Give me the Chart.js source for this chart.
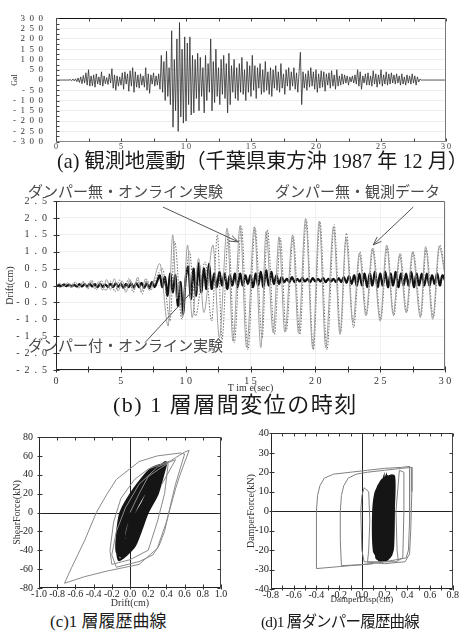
<!DOCTYPE html>
<html><head><meta charset="utf-8">
<script src="https://cdn.jsdelivr.net/npm/chart.js@4.4.1/dist/chart.umd.min.js"></script>
<style>
html,body{margin:0;padding:0;background:#fff;}
#page{position:relative;width:459px;height:639px;overflow:hidden;background:#fff;}
canvas{position:absolute;}
.cap{position:absolute;white-space:nowrap;color:#1a1a1a;line-height:1;font-family:"Liberation Serif","Noto Sans CJK JP",serif;z-index:5;}
.ann{position:absolute;white-space:nowrap;color:#4a4a4a;line-height:1;font-family:"Noto Sans CJK JP",sans-serif;font-size:15px;z-index:5;}
</style></head>
<body>
<div id="page">
<canvas id="ca" width="459" height="160" style="left:0;top:0"></canvas>
<canvas id="cb" width="459" height="208" style="left:0;top:186px"></canvas>
<canvas id="cc" width="230" height="184" style="left:0;top:425px"></canvas>
<canvas id="cd" width="230" height="180" style="left:229px;top:425px"></canvas>
<div class="cap" style="left:57px;top:151px;font-size:20.2px">(a) 観測地震動（千葉県東方沖 1987 年 12 月）</div>
<div class="ann" style="left:28px;top:183px">ダンパー無・オンライン実験</div>
<div class="ann" style="left:275px;top:183px">ダンパー無・観測データ</div>
<div class="ann" style="left:28px;top:337px">ダンパー付・オンライン実験</div>
<div class="cap" style="left:113px;top:394px;font-size:22px;letter-spacing:1.5px">(b) 1 層層間変位の時刻</div>
<div class="cap" style="left:50px;top:613px;font-size:17px">(c)1 層履歴曲線</div>
<div class="cap" style="left:261px;top:614px;font-size:15.5px;letter-spacing:-0.8px">(d)1 層ダンパー履歴曲線</div>
</div>
<script>
// ---------- (a) observed ground acceleration (Gal), sampled every 0.1 s ----------
const accStart = 0, accStep = 0.1;
const accGal = [
0,0,0,0,0,0,0,0,0,0,
0,2,-3,5,-4,6,-8,10,-12,15,
-18,22,-15,35,-25,50,-30,20,-28,25,
-35,30,-20,15,-25,40,-30,20,-18,12,
-22,30,-15,55,-40,25,-50,20,-30,15,
-25,35,-45,40,-20,30,-55,45,-30,60,
-60,40,-35,25,-40,30,-25,20,-35,60,
-50,30,-65,25,-20,35,-30,20,-25,30,
-45,120,-60,90,-100,140,-80,60,-120,240,
-230,100,-150,200,-250,280,-180,150,-210,210,
-200,180,-120,210,-170,120,-160,100,-90,130,
-150,110,-80,60,-160,120,-100,80,-60,200,
-150,90,-110,150,-80,60,-120,100,-70,120,
-90,80,-160,130,-120,70,-60,100,-90,60,
-100,80,-60,110,-70,50,-100,90,-60,70,
-80,120,-50,70,-90,60,-40,80,-70,50,
-60,90,-50,40,-70,60,-80,50,-40,70,
-50,40,-60,80,-40,30,-70,50,-30,60,
-50,40,-30,60,-45,35,-60,40,135,-120,
40,-40,30,-50,45,-35,60,-30,40,-45,
50,-60,30,-40,45,-35,40,-55,30,-25,
35,-40,45,-30,25,-45,50,-30,20,-25,
30,-20,25,-15,20,-25,15,-10,20,-15,
25,-20,50,-30,40,-45,20,-15,30,-25,
35,-25,20,-30,45,-20,30,-35,25,-20,
50,-30,25,-20,40,-25,30,-20,35,-15,
25,-20,30,-15,20,-25,30,-20,15,-25,
25,-15,20,-20,30,-15,20,-25,15,-10,
5,0,0,0,0,0,0,0,0,0,
0,0,0,0,0,0,0,0,0,0,0];

// ---------- (b) 1st storey drift (cm) ----------
const obsTime = [0,0.3,0.6,0.9,1.2,1.5,1.8,2.1,2.4,2.7,3.0,3.3,3.6,3.9,4.2,4.5,4.8,5.1,5.4,5.7,6.0,6.3,6.6,6.9,7.2,7.5,
 8.0,8.65,9.0,9.3,9.5,9.75,10.15,10.5,11.0,11.4,12.1,12.6,13.2,13.65,14.2,14.7,15.3,15.8,16.2,16.75,17.2,17.65,18.25,18.7,
 19.25,19.8,20.3,20.8,21.4,21.9,22.36,22.9,23.4,23.9,24.4,25.0,25.5,26.0,26.5,27.0,27.5,28.1,28.5,29.05,29.55,30];
const obsDrift = [0,0.06,-0.04,0.08,-0.05,0.1,-0.06,0.12,-0.08,0.15,-0.1,0.12,-0.14,0.18,-0.12,0.2,-0.16,0.14,-0.2,0.18,-0.12,0.25,-0.18,0.2,-0.15,0.1,
 0.65,-1.2,1.5,-0.4,0.1,-0.95,1.2,-0.95,0.8,-0.8,1.2,-1.55,1.7,-1.65,1.78,-1.84,1.74,-1.84,1.59,-1.4,1.44,-1.38,1.5,-1.4,
 1.98,-1.85,1.9,-1.84,1.74,-1.45,1.4,-1.1,0.96,-0.9,1.1,-1.06,1.2,-0.85,0.9,-0.8,1.0,-0.95,1.15,-1.0,1.15,0.3];
const onlineTime = [0,0.35,0.7,1.05,1.4,1.75,2.1,2.45,2.8,3.15,3.5,3.85,4.2,4.55,4.9,5.25,5.6,5.95,6.3,6.65,7.0,7.35,7.7,
 8.2,8.8,9.15,9.7,10.3,10.75,11.5,12.0,12.45,12.8,13.3,13.75,14.3,14.8,15.35,15.9,16.3,16.85,17.3,17.75,18.3,18.8,
 19.3,19.85,20.35,20.9,21.45,21.95,22.4,22.95,23.45,23.95,24.45,25.05,25.55,26.05,26.55,27.05,27.55,28.15,28.55,29.1,29.6,30];
const onlineDrift = [0,-0.05,0.07,-0.06,0.09,-0.08,0.1,-0.1,0.14,-0.12,0.15,-0.15,0.13,-0.18,0.16,-0.14,0.2,-0.2,0.15,-0.25,0.18,-0.12,0.2,
 0.5,-1.05,1.3,-1.0,1.0,-0.9,0.7,-1.05,1.5,-1.6,1.55,-1.7,1.75,-1.9,1.7,-1.55,1.65,-1.45,1.4,-1.35,1.45,-1.45,
 1.95,-1.9,1.9,-1.9,1.8,-1.4,1.55,-1.25,1.0,-0.85,1.1,-1.0,1.15,-0.9,0.95,-0.8,1.0,-0.9,1.1,-0.95,1.2,0.4];
const damperStep = 0.2;
const damperDrift = [
0,0.02,-0.02,0.03,-0.02,0.03,-0.03,0.02,-0.03,0.04,
-0.03,0.04,-0.04,0.05,-0.03,0.04,-0.05,0.05,-0.04,0.03,
-0.04,0.05,-0.05,0.06,-0.04,0.05,-0.06,0.05,-0.05,0.06,
-0.06,0.07,-0.05,0.08,-0.07,0.06,-0.08,0.1,-0.05,0.12,
0.3,-0.05,0.25,-0.3,0.35,-0.2,0.3,-0.6,0.1,-0.85,
0.2,0.55,-0.4,0.5,-0.3,0.65,-0.2,0.5,-0.1,0.65,
-0.1,0.35,-0.05,0.4,0.0,0.35,-0.1,0.3,0.0,0.35,
-0.05,0.35,0.0,0.3,0.05,0.3,-0.05,0.35,0.0,0.4,
-0.05,0.45,0.0,0.4,0.05,0.3,0.05,0.25,0.1,0.2,
0.1,0.25,0.1,0.2,0.12,0.22,0.12,0.2,0.1,0.22,
0.12,0.2,0.12,0.22,0.1,0.2,0.12,0.2,0.1,0.22,
0.1,0.25,0.08,0.28,0.05,0.3,0.0,0.35,0.0,0.35,
-0.05,0.35,0.0,0.4,-0.05,0.35,0.0,0.4,-0.05,0.35,
0.0,0.4,-0.05,0.35,0.0,0.35,0.0,0.4,-0.05,0.35,
0.0,0.35,0.0,0.35,0.0,0.3,0.05,0.35,0.0,0.3,
0.15];
const arrowFrom = [[8.25, 2.32], [27.55, 2.32], [6.86, -1.69]];
const arrowTo   = [[14.06, 1.29], [24.46, 1.2], [10.97, 0.02]];

// ---------- (c) storey hysteresis ----------
const cOuterDrift = [0,0.1,0.2,0.35,0.42,0.38,0.3,0.2,0.0,-0.2,-0.22,-0.18,-0.1,0.05,0.2,0.45,0.6,0.65,0.55,0.5,0.4,0.3,0.1,-0.25,-0.5,-0.72,-0.64,-0.5,-0.37,-0.25,-0.15,0.1,0.3,0.55,0.6,0.5,0.45,0.38,0.32,0.25,0.1,-0.15,-0.2,-0.15,-0.05,0.1,0.3,0.5,0.35];
const cOuterForce = [0,20,38,48,52,20,-10,-40,-50,-55,-40,-10,15,35,46,55,64,66,40,25,-10,-38,-55,-62,-68,-75,-58,-30,0,20,35,54,60,63,62,30,10,-20,-35,-45,-52,-58,-45,-20,5,30,48,56,30];
const cCoreDrift = [0.40,0.30,0.19,0.05,-0.12,-0.14,-0.10,0.05,0.22, 0.36,0.28,0.15,0.02,-0.10,-0.12,-0.06,0.10,0.25, 0.33,0.25,0.14,0.0,-0.14,-0.13,-0.05,0.12,0.28, 0.38,0.29,0.17,0.04,-0.08,-0.11,-0.08,0.06,0.20, 0.30,0.22,0.12,0.01,-0.09,-0.10,-0.04,0.10,0.24, 0.35,0.27,0.18,0.06,-0.06,-0.10,-0.07,0.05,0.20, 0.27,0.20,0.10,-0.02,-0.12,-0.12,-0.06,0.08,0.20, 0.39,0.31,0.20,0.07,-0.04,-0.08,-0.05,0.08,0.24, 0.32,0.24,0.13,0.02,-0.07,-0.09,-0.03,0.12,0.26, 0.28,0.21,0.11,0.0,-0.06,-0.07,0.0,0.14,0.22,
 0.34,0.27,0.15,0.06,-0.02,-0.06,-0.10,-0.07,0.0,0.12,0.25, 0.30,0.22,0.12,0.04,-0.03,-0.08,-0.09,-0.04,0.05,0.15,0.28, 0.38,0.30,0.20,0.10,0.0,-0.05,-0.10,-0.08,-0.02,0.08,0.20,0.32, 0.26,0.18,0.10,0.02,-0.05,-0.07,-0.02,0.07,0.16,0.24, 0.36,0.26,0.14,0.08,0.02,-0.04,0.0,0.06,0.14,0.22,0.30];
const cCoreForce = [54,20,0,-35,-50,-25,0,25,45, 50,22,-5,-38,-46,-22,5,30,44, 46,20,-2,-36,-42,-18,8,32,44, 52,25,0,-30,-44,-28,-2,22,40, 40,15,-8,-32,-40,-20,4,26,38, 48,24,4,-28,-42,-26,-4,20,38, 36,14,-10,-34,-44,-25,0,24,34, 53,28,6,-24,-40,-30,-6,18,40, 44,18,-6,-30,-38,-18,6,28,40, 38,16,-6,-26,-30,-12,8,28,34,
 46,28,8,-12,-32,-44,-36,-15,5,25,40, 42,26,6,-14,-30,-40,-28,-8,10,28,42, 50,34,14,-4,-24,-38,-44,-20,0,18,34,46, 36,18,0,-20,-36,-24,-6,12,26,34, 48,30,10,0,-12,-26,-10,4,18,30,40];

// ---------- (d) damper hysteresis ----------
const dOuterDisp = [0.1,0.0,-0.2,-0.4,-0.4,-0.4,-0.39,-0.37,-0.33,-0.25,-0.1,0.05,0.2,0.35,0.42,0.42,0.42,0.41,0.39,0.3,0.15,0.0,-0.18,-0.19,-0.19,-0.18,-0.16,-0.12,-0.05,0.05,0.2,0.35,0.44,0.44,0.43,0.42,0.38,0.2,0.02,0.0,-0.01,0.0,0.02,0.06,0.07,0.06,0.05,0.3,0.36,0.37,0.37,0.33,0.3,0.31,0.32];
const dOuterForce = [-27,-27.5,-28.5,-29.5,-20,0,8,13,17,19,20,21,22,22.5,23,10,-5,-20,-24,-25,-26.5,-27.5,-28,-15,0,8,13,17,19,20,21,22,22.5,10,-10,-22,-26,-27,-26,-20,0,8,12,10,-5,-20,-26,-26,-24,0,20,21,0,-20,-25];
const dCoreDisp = [0.26,0.27,0.26,0.20,0.13,0.12,0.14,0.20, 0.24,0.25,0.24,0.18,0.12,0.11,0.13,0.18, 0.28,0.28,0.27,0.22,0.15,0.14,0.15,0.22, 0.22,0.23,0.22,0.17,0.13,0.12,0.14,0.19, 0.27,0.27,0.25,0.19,0.14,0.13,0.15,0.21, 0.25,0.26,0.25,0.20,0.16,0.15,0.16,0.21, 0.23,0.24,0.22,0.16,0.11,0.10,0.12,0.17, 0.26,0.27,0.26,0.21,0.15,0.14,0.16,0.21,
 0.21,0.22,0.21,0.18,0.16,0.15,0.16,0.19, 0.19,0.20,0.19,0.17,0.17,0.17,0.18, 0.24,0.23,0.23,0.20,0.18,0.18,0.19,0.22, 0.16,0.16,0.15,0.13,0.13,0.13,0.15, 0.25];
const dCoreForce = [18,0,-22,-25,-24,-5,12,17, 17,-2,-20,-24,-22,-4,10,16, 18,2,-20,-25,-25,-8,10,18, 16,0,-18,-22,-20,-2,11,16, 18,-4,-23,-25,-23,-6,9,17, 17,1,-21,-24,-22,-5,10,16, 16,-3,-20,-23,-21,-3,9,15, 18,0,-22,-25,-24,-6,10,17,
 17,0,-20,-23,-21,-3,10,16, 16,-2,-21,-23,-5,8,15, 17,-4,-22,-24,-20,-2,12,17, 14,-3,-22,-23,-8,6,13, 17];

// ---------- helpers ----------
const serif = '"Liberation Serif","Times New Roman",serif';
const zip = (xs, ys) => xs.map((x, i) => ({x, y: ys[i]}));
const spaced = (s, sep) => String(s).split('').join(sep);
const fixW = w => s => { s.width = w; };
const fixH = h => s => { s.height = h; };

const framePlugin = {
  id: 'frame',
  beforeDatasetsDraw(chart, args, o) {
    if (!o || !o.cross) return;
    const {ctx, chartArea: a, scales: {x, y}} = chart;
    ctx.save(); ctx.strokeStyle = o.cross; ctx.lineWidth = 1;
    const px = Math.round(x.getPixelForValue(0)) + 0.5, py = Math.round(y.getPixelForValue(0)) + 0.5;
    ctx.beginPath(); ctx.moveTo(px, a.top); ctx.lineTo(px, a.bottom); ctx.moveTo(a.left, py); ctx.lineTo(a.right, py); ctx.stroke();
    ctx.restore();
  },
  afterDatasetsDraw(chart, args, o) {
    if (!o || !o.sides) return;
    const {ctx, chartArea: a, scales: {x, y}} = chart;
    ctx.save(); ctx.lineWidth = 1;
    const L = Math.round(a.left) + 0.5, R = Math.round(a.right) - 0.5, T = Math.round(a.top) + 0.5, B = Math.round(a.bottom) - 0.5;
    const seg = (c, x1, y1, x2, y2) => { if (!c) return; ctx.strokeStyle = c; ctx.beginPath(); ctx.moveTo(x1, y1); ctx.lineTo(x2, y2); ctx.stroke(); };
    const s = o.sides;
    seg(s[0], L, T, R, T); seg(s[1], R, T, R, B); seg(s[2], L, B, R, B); seg(s[3], L, T, L, B);
    ctx.strokeStyle = o.tickColor || '#333';
    ctx.beginPath();
    const n = o.len || 3, out = o.out || 0;
    if (o.xStep) for (let v = x.min; v <= x.max + 1e-9; v += o.xStep) {
      const p = Math.round(x.getPixelForValue(v)) + 0.5;
      if (o.xTop) { ctx.moveTo(p, T); ctx.lineTo(p, T + n); }
      if (o.xBottom) { ctx.moveTo(p, B + out); ctx.lineTo(p, B - n); }
    }
    if (o.yStep) for (let v = y.min; v <= y.max + 1e-9; v += o.yStep) {
      const p = Math.round(y.getPixelForValue(v)) + 0.5;
      if (o.yLeft) { ctx.moveTo(L - out, p); ctx.lineTo(L + n, p); }
      if (o.yRight) { ctx.moveTo(R, p); ctx.lineTo(R - n, p); }
    }
    ctx.stroke();
    ctx.restore();
  }
};

const arrowPlugin = {
  id: 'arrows',
  afterDatasetsDraw(chart, args, o) {
    if (!o || !o.from) return;
    const {ctx, scales: {x, y}} = chart;
    ctx.save(); ctx.strokeStyle = o.color; ctx.lineWidth = 1;
    o.from.forEach((f, i) => {
      const t = o.to[i];
      const x1 = x.getPixelForValue(f[0]), y1 = y.getPixelForValue(f[1]);
      const x2 = x.getPixelForValue(t[0]), y2 = y.getPixelForValue(t[1]);
      const ang = Math.atan2(y2 - y1, x2 - x1), h = 9, w = 0.35;
      ctx.beginPath(); ctx.moveTo(x1, y1); ctx.lineTo(x2, y2);
      ctx.moveTo(x2 - h * Math.cos(ang - w), y2 - h * Math.sin(ang - w));
      ctx.lineTo(x2, y2);
      ctx.lineTo(x2 - h * Math.cos(ang + w), y2 - h * Math.sin(ang + w));
      ctx.stroke();
    });
    ctx.restore();
  }
};

const common = {
  animation: false, responsive: false, maintainAspectRatio: false,
  events: [],
  elements: {point: {radius: 0}},
};
const noLegend = {legend: {display: false}, tooltip: {enabled: false}};

// ---------- (a) ----------
new Chart(document.getElementById('ca'), {
  type: 'line',
  data: {datasets: [{data: accGal.map((v, i) => ({x: accStart + i * accStep, y: v})), borderColor: '#2e2e2e', borderWidth: 0.8, tension: 0}]},
  plugins: [framePlugin],
  options: Object.assign({}, common, {
    layout: {padding: {top: 15, right: 13, left: 0, bottom: 0}},
    plugins: Object.assign({}, noLegend, {frame: {sides: ['#111', '#777', '#888', '#555'], tickColor: '#444', xStep: 2.5, xTop: true, xBottom: true, yStep: 25, yLeft: true, len: 3}}),
    scales: {
      x: {type: 'linear', min: 0, max: 30, afterFit: fixH(14),
          ticks: {stepSize: 5, autoSkip: false, maxRotation: 0, padding: 1, color: '#333', font: {family: serif, size: 8}, callback: v => spaced(v, ' ')},
          grid: {display: false, drawTicks: false}, border: {display: false}},
      y: {type: 'linear', min: -300, max: 300, afterFit: fixW(56),
          ticks: {stepSize: 50, autoSkip: false, padding: 13, color: '#333', font: {family: serif, size: 9}, callback: v => spaced(v, '  ')},
          grid: {color: 'rgba(0,0,0,0.07)', drawTicks: false}, border: {display: false},
          title: {display: true, text: 'Gal', color: '#333', font: {family: serif, size: 8}, padding: {top: 10, bottom: 0}}}
    }
  })
});

// ---------- (b) ----------
new Chart(document.getElementById('cb'), {
  type: 'line',
  data: {datasets: [
    {data: zip(obsTime, obsDrift), borderColor: '#a0a0a0', borderWidth: 1, cubicInterpolationMode: 'monotone'},
    {data: zip(onlineTime, onlineDrift), borderColor: '#6a6a6a', borderWidth: 1, borderDash: [1.5, 1.5], cubicInterpolationMode: 'monotone'},
    {data: damperDrift.map((v, i) => ({x: i * damperStep, y: v})), borderColor: '#111', borderWidth: 2.2, tension: 0.35}
  ]},
  plugins: [framePlugin, arrowPlugin],
  options: Object.assign({}, common, {
    layout: {padding: {top: 14, right: 14, left: 0, bottom: 0}},
    plugins: Object.assign({}, noLegend, {
      frame: {sides: ['#666', '#777', '#222', '#222'], tickColor: '#333', xStep: 2.5, xBottom: true, yStep: 0.5, yLeft: true, len: 3, out: 3},
      arrows: {from: arrowFrom, to: arrowTo, color: '#555'}
    }),
    scales: {
      x: {type: 'linear', min: 0, max: 30, afterFit: fixH(24),
          ticks: {stepSize: 5, autoSkip: false, maxRotation: 0, padding: 5, color: '#333', font: {family: serif, size: 10}, callback: v => spaced(v, ' ')},
          grid: {color: 'rgba(0,0,0,0.05)', drawTicks: false}, border: {display: false},
          title: {display: true, text: 'T im e(sec)', color: '#333', font: {family: serif, size: 10}, padding: {top: 0, bottom: 0}}},
      y: {type: 'linear', min: -2.5, max: 2.5, afterFit: fixW(56),
          ticks: {stepSize: 0.5, autoSkip: false, padding: 9, color: '#333', font: {family: serif, size: 10}, callback: v => spaced(v.toFixed(1), '  ')},
          grid: {color: 'rgba(0,0,0,0.06)', drawTicks: false}, border: {display: false},
          title: {display: true, text: 'Drift(cm)', color: '#333', font: {family: serif, size: 10}, padding: {top: 4, bottom: 0}}}
    }
  })
});

// ---------- (c) ----------
new Chart(document.getElementById('cc'), {
  type: 'line',
  data: {datasets: [
    {data: zip(cOuterDrift, cOuterForce), borderColor: '#8a8a8a', borderWidth: 1, tension: 0},
    {data: zip(cCoreDrift, cCoreForce), borderColor: '#151515', borderWidth: 3, tension: 0.2}
  ]},
  plugins: [framePlugin],
  options: Object.assign({}, common, {
    layout: {padding: {top: 6, right: 9, left: 0, bottom: 0}},
    plugins: Object.assign({}, noLegend, {frame: {sides: ['#333', '#444', '#222', '#222'], cross: '#222', tickColor: '#333', xStep: 0.2, xTop: true, xBottom: true, yStep: 20, yLeft: true, yRight: true, len: 3, out: 2}}),
    scales: {
      x: {type: 'linear', min: -1, max: 1, afterFit: fixH(21),
          ticks: {stepSize: 0.2, autoSkip: false, maxRotation: 0, padding: 0, color: '#222', font: {family: serif, size: 10}, callback: v => v.toFixed(1)},
          grid: {display: false, drawTicks: false}, border: {display: false},
          title: {display: true, text: 'Drift(cm)', color: '#333', font: {family: serif, size: 10}, padding: {top: 0, bottom: 0}}},
      y: {type: 'linear', min: -80, max: 80, afterFit: fixW(39),
          ticks: {stepSize: 20, autoSkip: false, padding: 6, color: '#222', font: {family: serif, size: 10}},
          grid: {display: false, drawTicks: false}, border: {display: false},
          title: {display: true, text: 'ShearForce(kN)', color: '#333', font: {family: serif, size: 10}, padding: {top: 11, bottom: 0}}}
    }
  })
});

// ---------- (d) ----------
new Chart(document.getElementById('cd'), {
  type: 'line',
  data: {datasets: [
    {data: zip(dOuterDisp, dOuterForce), borderColor: '#808080', borderWidth: 1, tension: 0},
    {data: zip(dCoreDisp, dCoreForce), borderColor: '#151515', borderWidth: 2.6, tension: 0.2}
  ]},
  plugins: [framePlugin],
  options: Object.assign({}, common, {
    layout: {padding: {top: 6, right: 2, left: 0, bottom: 0}},
    plugins: Object.assign({}, noLegend, {frame: {sides: ['#333', '#444', '#222', '#222'], cross: '#222', tickColor: '#333', xStep: 0.1, xTop: true, xBottom: true, yStep: 10, yLeft: true, yRight: true, len: 3, out: 2}}),
    scales: {
      x: {type: 'linear', min: -0.8, max: 0.8, afterFit: fixH(16),
          ticks: {stepSize: 0.2, autoSkip: false, maxRotation: 0, padding: 0, color: '#222', font: {family: serif, size: 10}, callback: v => v.toFixed(1)},
          grid: {display: false, drawTicks: false}, border: {display: false},
          title: {display: true, text: 'DamperDisp(cm)', color: '#333', font: {family: serif, size: 9}, padding: {top: 0, bottom: 0}}},
      y: {type: 'linear', min: -40, max: 40, afterFit: fixW(42),
          ticks: {stepSize: 10, autoSkip: false, padding: 2, color: '#222', font: {family: serif, size: 10.5}},
          grid: {display: false, drawTicks: false}, border: {display: false},
          title: {display: true, text: 'DamperForce(kN)', color: '#333', font: {family: serif, size: 10}, padding: {top: 16, bottom: 0}}}
    }
  })
});
</script>
</body></html>
